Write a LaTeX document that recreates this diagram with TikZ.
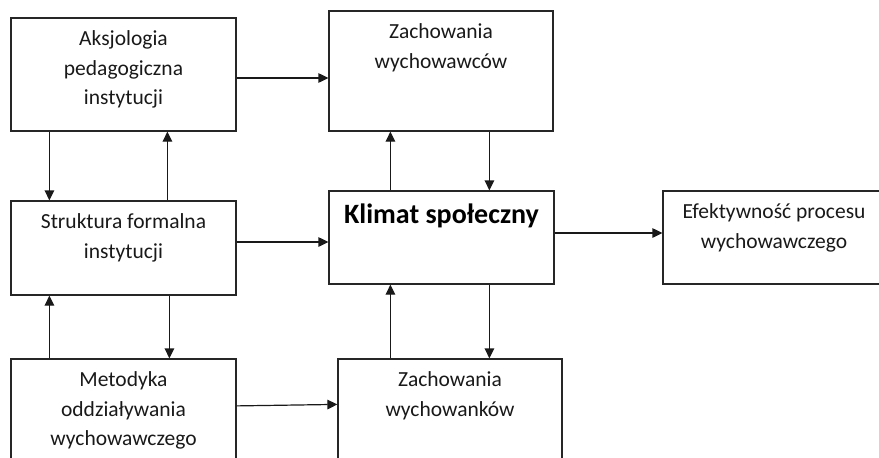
\documentclass[tikz,border=0pt]{standalone}
\usepackage{fontspec}
\setmainfont{Carlito}
\usetikzlibrary{arrows.meta,positioning}

\tikzset{
  blok/.style={draw=black!85, line width=1.2pt, rectangle, inner sep=0pt},
  opis/.style={font=\fontsize{21.5}{29.5}\selectfont, align=center, inner sep=0pt, text=black!90},
  strz/.style={-{Triangle[length=10pt,width=9.5pt]}, line width=1.2pt, black!90},
}

\begin{document}
\begin{tikzpicture}[x=1pt, y=-1pt]
            \clip (0,0) rectangle (879,458);

            % bloki
            \node[blok, minimum width=225pt, minimum height=113pt] (aks) at (123.5,74.5) {};
            \node[blok, minimum width=224pt, minimum height=120pt] (wych) at (441,71) {};
            \node[blok, minimum width=225pt, minimum height=94pt] (struk) at (123.5,248) {};
            \node[blok, minimum width=225pt, minimum height=93pt] (klimat) at (441.5,237.5) {};
            \node[blok, minimum width=222pt, minimum height=93pt] (efekt) at (774,237.5) {};
            \node[blok, minimum width=225pt, minimum height=111pt] (metod) at (123.5,414.5) {};
            \node[blok, minimum width=224pt, minimum height=111pt] (wychk) at (450,414.5) {};

            % teksty
            \node[opis, below=13pt of aks.north] (aksT) {Aksjologia\\pedagogiczna\\instytucji};
            \node[opis, below=13pt of wych.north] (wychT) {Zachowania\\wychowawców};
            \node[opis, below=13pt of struk.north] (strukT) {Struktura formalna\\instytucji};
            \node[opis, font=\fontsize{28}{30}\selectfont\bfseries, text=black, below=13pt of klimat.north] (klimatT) {Klimat społeczny};
            \node[opis, below=13pt of efekt.north] (efektT) {Efektywność procesu\\wychowawczego};
            \node[opis, below=13pt of metod.north] (metodT) {Metodyka\\oddziaływania\\wychowawczego};
            \node[opis, below=13pt of wychk.north] (wychkT) {Zachowania\\wychowanków};

            % punkty zaczepienia
            \coordinate (a1) at ([yshift=-3.5pt]aks.east);
            \coordinate (a2) at ([xshift=39pt]aks.south west);
            \coordinate (a3) at ([xshift=157pt]aks.south west);
            \coordinate (s1) at ([yshift=6pt]struk.east);
            \coordinate (s2) at ([xshift=39pt]struk.south west);
            \coordinate (s3) at ([xshift=159pt]struk.south west);
            \coordinate (k1) at ([yshift=4.5pt]klimat.east);
            \coordinate (k2) at ([xshift=62pt]klimat.north west);
            \coordinate (k3) at ([xshift=161pt]klimat.north west);
            \coordinate (m1) at ([yshift=-47.5pt]metod.north east);
            \coordinate (m2) at ([yshift=-46pt]wychk.north west);

            % strzalki
            \draw[strz] (a1) -- (a1 -| wych.west);
            \draw[strz] (a2) -- (a2 |- struk.north);
            \draw[strz] (a3 |- struk.north) -- (a3);
            \draw[strz] (s1) -- (s1 -| klimat.west);
            \draw[strz] (k1) -- (k1 -| efekt.west);
            \draw[strz] (k2) -- (k2 |- wych.south);
            \draw[strz] (k3 |- wych.south) -- (k3);
            \draw[strz] (k2 |- wychk.north) -- (k2 |- klimat.south);
            \draw[strz] (k3 |- klimat.south) -- (k3 |- wychk.north);
            \draw[strz] (s2 |- metod.north) -- (s2);
            \draw[strz] (s3) -- (s3 |- metod.north);
            \draw[strz] (m1) -- (m2);
\end{tikzpicture}
\end{document}
